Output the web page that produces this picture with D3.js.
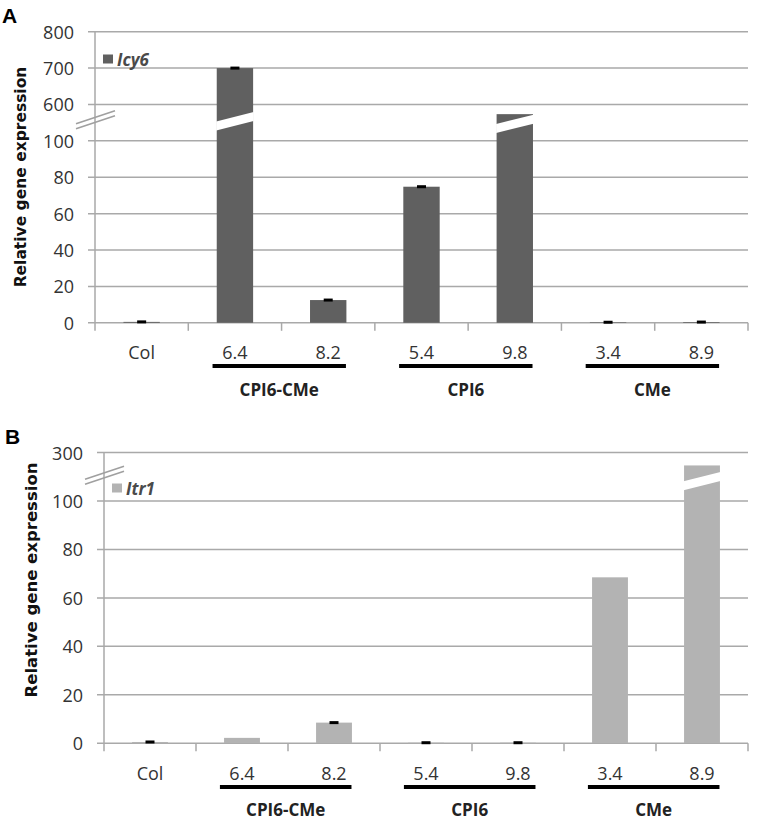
<!DOCTYPE html>
<html>
<head>
<meta charset="utf-8">
<script src="https://cdn.jsdelivr.net/npm/d3@7"></script>
<style>
  html, body { margin: 0; padding: 0; background: #fff; }
  svg { display: block; }
</style>
</head>
<body>
<svg id="chart" width="759" height="822"></svg>
<script>
// ---------- data ----------
const categories = ["Col", "6.4", "8.2", "5.4", "9.8", "3.4", "8.9"];
const groupNames = ["CPI6-CMe", "CPI6", "CMe"];
const groupMembers = [["6.4", "8.2"], ["5.4", "9.8"], ["3.4", "8.9"]];

const icy6Values = [0.5, 700, 12.5, 74.8, 467, 0.3, 0.4];
const icy6Errors = [0.3, 1.5, 0.6, 0.6, 0, 0.1, 0.2];
const icy6BreakAt = [null, 370, null, null, 333, null, null];
const icy6Ticks = [0, 20, 40, 60, 80, 100, 600, 700, 800];

const itr1Values = [0.5, 2.2, 8.5, 0.2, 0.2, 68.5, 247];
const itr1Errors = [0.3, 0, 0.4, 0.15, 0.15, 0, 0];
const itr1BreakAt = [null, null, null, null, null, null, 182];
const itr1Ticks = [0, 20, 40, 60, 80, 100, 300];

// ---------- drawing ----------
const svg = d3.select("#chart");
const tickFont = "'Open Sans', sans-serif";
const gridColor = "#a9a9a9";

function drawPanel(cfg) {
  const g = svg.append("g");
  const nLow = cfg.ticks.filter(t => t <= cfg.lowMax).length - 1;
  const nSteps = cfg.ticks.length - 1;
  const step = (cfg.bottom - cfg.top) / nSteps;
  const dom = [0, cfg.lowMax, cfg.highMin, cfg.highMax];
  const rng = [cfg.bottom, cfg.bottom - nLow * step,
               cfg.bottom - (nLow + 1) * step, cfg.top];
  const y = cfg.highMin === cfg.highMax
    ? d3.scaleLinear().domain([0, cfg.lowMax, cfg.highMax]).range([rng[0], rng[1], cfg.top])
    : d3.scaleLinear().domain(dom).range(rng);

  const x = d3.scaleBand().domain(categories).range([cfg.left, cfg.right]).padding(0);
  const bw = x.bandwidth();
  const barW = bw * 0.39;

  g.selectAll("line.grid").data(cfg.ticks.filter(t => t !== 0)).join("line")
    .attr("x1", cfg.left - 7).attr("x2", cfg.right)
    .attr("y1", d => y(d)).attr("y2", d => y(d))
    .attr("stroke", gridColor).attr("stroke-width", 1.5);

  g.selectAll("text.ytick").data(cfg.ticks).join("text")
    .attr("x", cfg.left - 21).attr("y", d => y(d))
    .attr("text-anchor", "end").attr("dominant-baseline", "central")
    .attr("font-family", tickFont).attr("font-size", 18).attr("fill", "#333")
    .text(d => d);

  g.append("line").attr("x1", cfg.left).attr("x2", cfg.left)
    .attr("y1", cfg.top).attr("y2", cfg.bottom)
    .attr("stroke", gridColor).attr("stroke-width", 1.5);
  g.append("line").attr("x1", cfg.left - 7).attr("x2", cfg.right)
    .attr("y1", cfg.bottom).attr("y2", cfg.bottom)
    .attr("stroke", gridColor).attr("stroke-width", 1.5);
  const bounds = categories.map(c => x(c)).concat([cfg.right]);
  g.selectAll("line.xtick").data(bounds).join("line")
    .attr("x1", d => d).attr("x2", d => d)
    .attr("y1", cfg.bottom).attr("y2", cfg.bottom + 8)
    .attr("stroke", gridColor).attr("stroke-width", 1.5);

  const data = categories.map((c, i) => ({
    c, v: cfg.values[i], e: cfg.errors[i], brk: cfg.breakAt[i]
  }));
  g.selectAll("rect.bar").data(data).join("rect")
    .attr("x", d => x(d.c) + (bw - barW) / 2)
    .attr("width", barW)
    .attr("y", d => y(d.v))
    .attr("height", d => cfg.bottom - y(d.v))
    .attr("fill", cfg.color);

  const slope = 0.25, thick = 9;
  g.selectAll("polygon.brk").data(data.filter(d => d.brk !== null)).join("polygon")
    .attr("fill", "#fff")
    .attr("points", d => {
      const x0 = x(d.c) + (bw - barW) / 2 - 0.5, x1 = x0 + barW + 1;
      const xc = (x0 + x1) / 2, yc = y(d.brk);
      const top = xx => yc - thick / 2 - slope * (xx - xc);
      const bot = xx => yc + thick / 2 - slope * (xx - xc);
      return [[x0, top(x0)], [x1, top(x1)], [x1, bot(x1)], [x0, bot(x0)]]
        .map(p => p.join(",")).join(" ");
    });

  g.selectAll("rect.err").data(data.filter(d => d.e > 0)).join("rect")
    .attr("x", d => x(d.c) + bw / 2 - 4.5)
    .attr("width", 9)
    .attr("y", d => Math.min(y(d.v + d.e), y(d.v) - 1.5))
    .attr("height", d => Math.max(3, y(d.v - d.e) - y(d.v + d.e)))
    .attr("fill", "#000");

  const gapMid = (y(cfg.lowMax) + y(cfg.highMin === cfg.highMax ? cfg.highMax : cfg.highMin)) / 2 - cfg.breakShift;
  [-2.5, 2.5].forEach(off => {
    g.append("line")
      .attr("x1", cfg.left - 19).attr("y1", gapMid + off + 6.5)
      .attr("x2", cfg.left + 20).attr("y2", gapMid + off - 6.5)
      .attr("stroke", "#a0a0a0").attr("stroke-width", 1.6);
  });

  g.selectAll("text.xlab").data(categories).join("text")
    .attr("x", d => x(d) + bw / 2).attr("y", cfg.catY)
    .attr("text-anchor", "middle").attr("dominant-baseline", "central")
    .attr("font-family", tickFont).attr("font-size", 18).attr("fill", "#333")
    .text(d => d);

  groupMembers.forEach((mem, i) => {
    const xs = x(mem[0]) + bw * 0.26;
    const xe = x(mem[mem.length - 1]) + bw * 0.69;
    g.append("line").attr("x1", xs).attr("x2", xe)
      .attr("y1", cfg.lineY).attr("y2", cfg.lineY)
      .attr("stroke", "#000").attr("stroke-width", 4);
    g.append("text").attr("x", (xs + xe) / 2).attr("y", cfg.groupY)
      .attr("text-anchor", "middle").attr("dominant-baseline", "central")
      .attr("font-family", tickFont).attr("font-weight", "bold")
      .attr("font-size", 17).attr("fill", "#222")
      .text(groupNames[i]);
  });

  g.append("text")
    .attr("transform", `translate(${cfg.titleX},${cfg.titleY}) rotate(-90)`)
    .attr("text-anchor", "middle").attr("dominant-baseline", "central")
    .attr("font-family", "'DejaVu Sans', sans-serif").attr("font-weight", "bold")
    .attr("font-size", cfg.titleSize).attr("fill", "#111")
    .text("Relative gene expression");

  g.append("rect").attr("x", cfg.left + 8).attr("y", cfg.legendY - 4.5)
    .attr("width", 10).attr("height", 9).attr("fill", cfg.color);
  g.append("text").attr("x", cfg.left + 22).attr("y", cfg.legendY)
    .attr("dominant-baseline", "central")
    .attr("font-family", tickFont).attr("font-weight", "bold").attr("font-style", "italic")
    .attr("font-size", 17).attr("fill", "#4a4a4a")
    .text(cfg.legend);

  svg.append("text").attr("x", cfg.letterX).attr("y", cfg.letterY)
    .attr("font-family", "'Liberation Sans', Arial, sans-serif").attr("font-weight", "bold")
    .attr("font-size", 21).attr("fill", "#000").text(cfg.letter);
}

drawPanel({
  letter: "A", letterX: 2, letterY: 23,
  values: icy6Values, errors: icy6Errors, breakAt: icy6BreakAt, ticks: icy6Ticks,
  lowMax: 100, highMin: 600, highMax: 800,
  top: 31.7, bottom: 322.8, left: 95, right: 748,
  color: "#606060", legend: "Icy6", legendY: 59,
  catY: 351.5, lineY: 366, groupY: 389,
  titleX: 21, titleY: 177, titleSize: 15.5, breakShift: 3
});

drawPanel({
  letter: "B", letterX: 5, letterY: 444,
  values: itr1Values, errors: itr1Errors, breakAt: itr1BreakAt, ticks: itr1Ticks,
  lowMax: 100, highMin: 300, highMax: 300,
  top: 452.6, bottom: 743.2, left: 104, right: 748,
  color: "#b3b3b3", legend: "Itr1", legendY: 488,
  catY: 772.7, lineY: 787, groupY: 809,
  titleX: 31, titleY: 580, titleSize: 16.5, breakShift: 1.5
});
</script>
</body>
</html>
